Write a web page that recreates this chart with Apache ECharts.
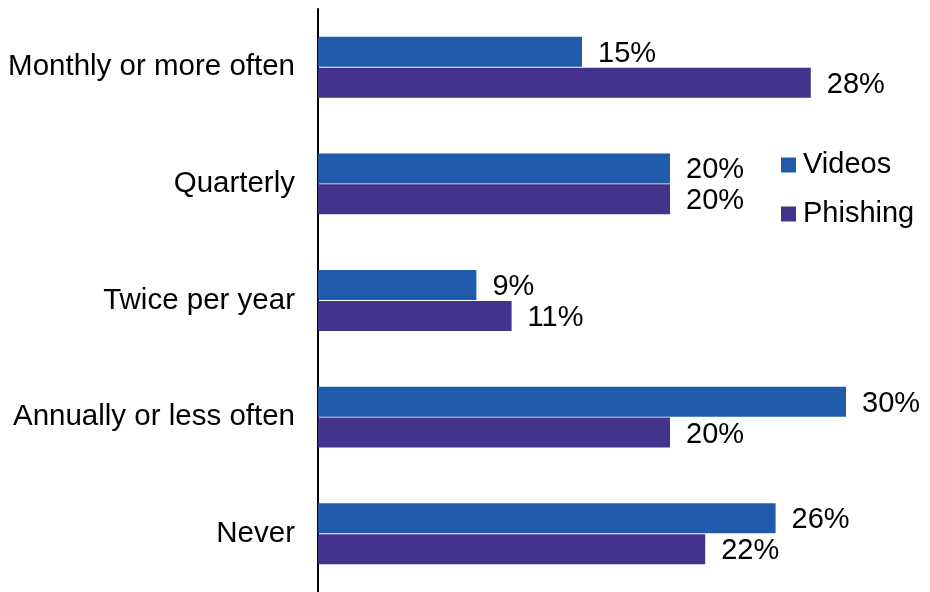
<!DOCTYPE html>
<html>
<head>
<meta charset="utf-8">
<script src="https://cdn.jsdelivr.net/npm/echarts@6/dist/echarts.min.js"></script>
<style>
  html, body { margin: 0; padding: 0; background: #fff; }
  #chart { width: 930px; height: 592px; }
</style>
</head>
<body>
<div id="chart"></div>
<script>
// How often training is delivered, share of respondents (%)
const categories = ['Monthly or more often', 'Quarterly', 'Twice per year', 'Annually or less often', 'Never'];
const videos = [15, 20, 9, 30, 26];
const phishing = [28, 20, 11, 20, 22];

const FONT = '"Liberation Sans", Arial, sans-serif';
const labelStyle = {
  show: true,
  position: 'right',
  distance: 16,
  offset: [0, 2],
  color: '#000',
  fontFamily: FONT,
  fontSize: 29,
  formatter: p => p.value + '%'
};

const chart = echarts.init(document.getElementById('chart'));
chart.setOption({
  animation: false,
  backgroundColor: '#fff',
  grid: { left: 318, top: 9, width: 528, height: 585 },
  legend: {
    orient: 'vertical',
    left: 781,
    top: 150,
    padding: 0,
    itemGap: 19,
    itemWidth: 15,
    itemHeight: 15,
    icon: 'rect',
    textStyle: { color: '#000', fontFamily: FONT, fontSize: 29, lineHeight: 30, padding: [0, 0, 0, 2] },
    data: ['Videos', 'Phishing']
  },
  xAxis: {
    type: 'value',
    min: 0,
    max: 30,
    show: false
  },
  yAxis: {
    type: 'category',
    data: categories,
    inverse: true,
    axisLine: { show: true, lineStyle: { color: '#000', width: 2 } },
    axisTick: { show: false },
    axisLabel: { color: '#000', fontFamily: FONT, fontSize: 29.5, margin: 23, padding: [5, 0, 0, 0] }
  },
  series: [
    {
      name: 'Videos',
      type: 'bar',
      data: videos,
      barWidth: 30,
      barGap: '3%',
      itemStyle: { color: '#1F5BAA' },
      label: labelStyle
    },
    {
      name: 'Phishing',
      type: 'bar',
      data: phishing,
      barWidth: 30,
      itemStyle: { color: '#43338C' },
      label: labelStyle
    }
  ]
});
</script>
</body>
</html>
